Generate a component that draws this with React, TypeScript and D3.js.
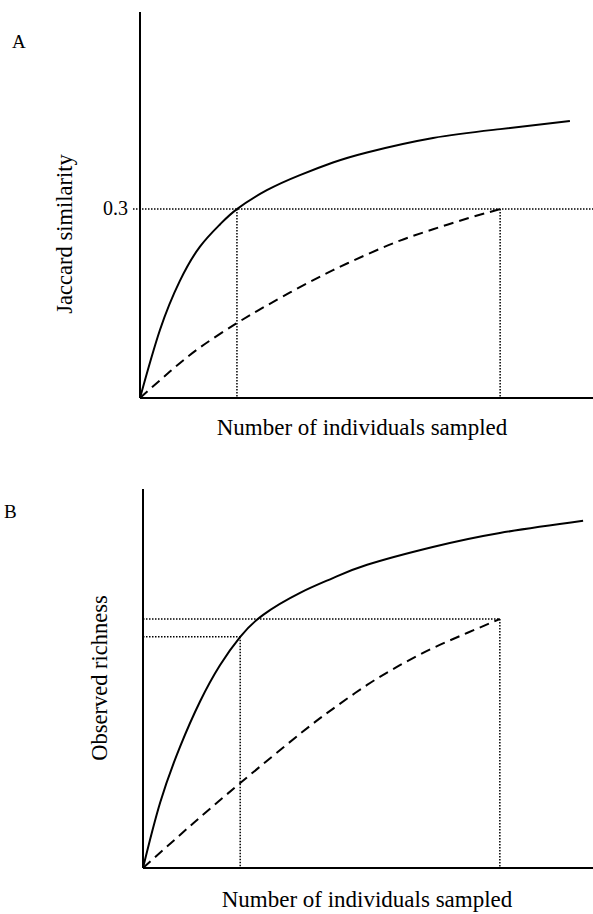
import { useEffect, useRef } from "react";
import * as d3 from "d3";

// Panel A: Jaccard similarity vs individuals sampled
const xSolidA = [0, 4.4, 8.8, 13.2, 17.7, 21.4, 28, 35.3, 42.6, 50.1, 64.7, 79.5, 94.9];
const ySolidA = [0, 0.108, 0.186, 0.24, 0.276, 0.3, 0.33, 0.354, 0.374, 0.39, 0.413, 0.427, 0.44];
const xDashA = [0, 6.6, 13.2, 21.4, 28, 35.3, 42.6, 50.1, 57.4, 64.7, 72.2, 79.5];
const yDashA = [0, 0.042, 0.08, 0.119, 0.147, 0.176, 0.203, 0.228, 0.25, 0.268, 0.285, 0.3];
const refYA = 0.3;
const refXA = [21.4, 79.5];
const tickA = [0.3];

// Panel B: observed richness vs individuals sampled
const xSolidB = [0, 3.8, 8.2, 12.7, 17.1, 21.6, 26.7, 34.9, 42.2, 49.8, 64.4, 79.3, 97.8];
const ySolidB = [0, 17.2, 31.9, 44, 53.5, 61, 66.8, 72.6, 76.5, 80, 84.7, 88.4, 91.6];
const xDashB = [0, 10.4, 21.6, 34.9, 42.2, 49.8, 57.1, 64.4, 72, 79.3];
const yDashB = [0, 11, 22.4, 35.4, 42, 48.3, 53.5, 58, 62, 65.7];
const refYB = [65.7, 61];
const refXB = [21.6, 79.3];

const FONT = "'Liberation Serif', 'Times New Roman', serif";

export default function App() {
  const ref = useRef<SVGSVGElement>(null);

  useEffect(() => {
    const svg = d3.select(ref.current);
    svg.selectAll("*").remove();

    const zip = (xs: number[], ys: number[]) => xs.map((x, i) => [x, ys[i]] as [number, number]);

    const drawCurves = (
      g: d3.Selection<SVGGElement, unknown, null, undefined>,
      x: d3.ScaleLinear<number, number>,
      y: d3.ScaleLinear<number, number>,
      solid: [number, number][],
      dashed: [number, number][]
    ) => {
      const line = d3.line<[number, number]>()
        .x(d => x(d[0]))
        .y(d => y(d[1]))
        .curve(d3.curveNatural);
      g.append("path").attr("d", line(solid)).attr("fill", "none")
        .attr("stroke", "#000").attr("stroke-width", 2);
      g.append("path").attr("d", line(dashed)).attr("fill", "none")
        .attr("stroke", "#000").attr("stroke-width", 2).attr("stroke-dasharray", "10,6");
    };

    // dotted guide lines
    const dotted = (g: d3.Selection<SVGGElement, unknown, null, undefined>, x1: number, y1: number, x2: number, y2: number) => {
      g.append("line")
        .attr("x1", x1).attr("y1", y1).attr("x2", x2).attr("y2", y2)
        .attr("stroke", "#000").attr("stroke-width", 1.5)
        .attr("stroke-dasharray", "1.5,1.5");
    };

    const axes = (g: d3.Selection<SVGGElement, unknown, null, undefined>, x: d3.ScaleLinear<number, number>, y: d3.ScaleLinear<number, number>) => {
      const [x0, x1] = x.range();
      const [y0, y1] = y.range();
      g.append("line").attr("x1", x0).attr("x2", x0).attr("y1", y1).attr("y2", y0)
        .attr("stroke", "#000").attr("stroke-width", 2);
      g.append("line").attr("x1", x0).attr("x2", x1).attr("y1", y0).attr("y2", y0)
        .attr("stroke", "#000").attr("stroke-width", 2);
    };

    // ---- Panel A
    const xA = d3.scaleLinear().domain([0, 100]).range([140, 593]);
    const yA = d3.scaleLinear().domain([0, 0.613]).range([398, 12]);
    const gA = svg.append("g");

    dotted(gA, 133, yA(refYA), 593, yA(refYA));
    refXA.forEach(v => dotted(gA, xA(v), yA(refYA), xA(v), yA(0)));
    axes(gA, xA, yA);
    drawCurves(gA, xA, yA, zip(xSolidA, ySolidA), zip(xDashA, yDashA));

    gA.selectAll("text.tick").data(tickA).join("text")
      .attr("class", "tick")
      .attr("x", 128).attr("y", d => yA(d) + 6)
      .attr("text-anchor", "end")
      .style("font-size", "20px")
      .text(d => d3.format(".1f")(d));

    gA.append("text").attr("x", 12).attr("y", 48).style("font-size", "19px").text("A");
    gA.append("text")
      .attr("transform", "translate(72,234) rotate(-90)")
      .attr("text-anchor", "middle").style("font-size", "22.5px")
      .text("Jaccard similarity");
    gA.append("text")
      .attr("x", 362).attr("y", 435)
      .attr("text-anchor", "middle").style("font-size", "23px")
      .text("Number of individuals sampled");

    // ---- Panel B
    const xB = d3.scaleLinear().domain([0, 100]).range([143, 593]);
    const yB = d3.scaleLinear().domain([0, 100]).range([868, 489]);
    const gB = svg.append("g");

    dotted(gB, xB(0), yB(refYB[0]), xB(refXB[1]), yB(refYB[0]));
    dotted(gB, xB(0), yB(refYB[1]), xB(refXB[0]), yB(refYB[1]));
    dotted(gB, xB(refXB[0]), yB(refYB[1]), xB(refXB[0]), yB(0));
    dotted(gB, xB(refXB[1]), yB(refYB[0]), xB(refXB[1]), yB(0));
    axes(gB, xB, yB);
    drawCurves(gB, xB, yB, zip(xSolidB, ySolidB), zip(xDashB, yDashB));

    gB.append("text").attr("x", 4).attr("y", 518).style("font-size", "19px").text("B");
    gB.append("text")
      .attr("transform", "translate(107,678) rotate(-90)")
      .attr("text-anchor", "middle").style("font-size", "22.5px")
      .text("Observed richness");
    gB.append("text")
      .attr("x", 367).attr("y", 907)
      .attr("text-anchor", "middle").style("font-size", "23px")
      .text("Number of individuals sampled");
  }, []);

  return (
    <svg
      ref={ref}
      width={593}
      height={914}
      style={{ position: "absolute", left: 0, top: 0, background: "#fff", fontFamily: FONT }}
    />
  );
}
